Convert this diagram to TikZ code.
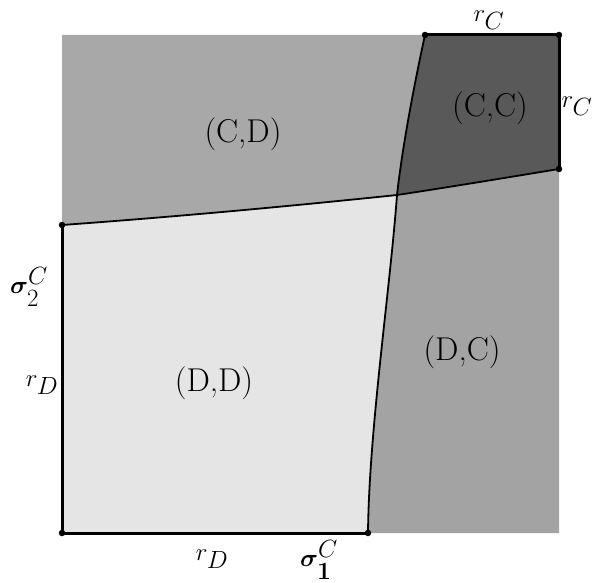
\documentclass[tikz,border=0pt]{standalone}
\usepackage{amssymb}
\usepackage{amsmath}
\usepackage{bm}
\usepackage{tikz}
\usetikzlibrary{calc}

\begin{document}
\begin{tikzpicture}[x=1pt,y=-1pt]
\tikzstyle{dot} = [draw,circle,minimum size=6pt,fill,inner sep=0mm]
\tikzstyle{lbl} = [inner sep=0pt,font=\fontsize{33}{38}\selectfont]
\tikzstyle{edge} = [line width=3pt]
\tikzstyle{split} = [line width=1.8pt]
\definecolor{cdgray}{gray}{0.66}
\definecolor{ccgray}{gray}{0.35}
\definecolor{ddgray}{gray}{0.90}
\definecolor{dcgray}{gray}{0.64}

\useasboundingbox (0,0) rectangle (592,583);

% corners and curve ends
\coordinate (tl) at (62,35);
\coordinate (t)  at (425,35);
\coordinate (tr) at (559,35);
\coordinate (r)  at (559,169);
\coordinate (br) at (559,533);
\coordinate (b)  at (368,533);
\coordinate (bl) at (62,533);
\coordinate (l)  at (62,225);
\coordinate (x)  at (397,195);

% the four regions
\fill[cdgray] (tl) -- (t) .. controls (413,90) and (402,150) .. (x)
   .. controls (320,203) and (200,215) .. (l) -- cycle;
\fill[ccgray] (t) -- (tr) -- (r) .. controls (510,177) and (450,187) .. (x)
   .. controls (402,150) and (413,90) .. (t) -- cycle;
\fill[ddgray] (l) .. controls (200,215) and (320,203) .. (x)
   .. controls (390,290) and (369,430) .. (b) -- (bl) -- cycle;
\fill[dcgray] (x) .. controls (450,187) and (510,177) .. (r) -- (br) -- (b)
   .. controls (369,430) and (390,290) .. (x) -- cycle;

% boundaries
\draw[split] (l) .. controls (200,215) and (320,203) .. (x)
   .. controls (450,187) and (510,177) .. (r);
\draw[split] (t) .. controls (413,90) and (402,150) .. (x)
   .. controls (390,290) and (369,430) .. (b);

\draw[edge] (t) -- (tr) -- (r);
\draw[edge] (l) -- (bl) -- (b);

\node[dot] (dt)  at (t)  {};
\node[dot] (dtr) at (tr) {};
\node[dot] (dr)  at (r)  {};
\node[dot] (dl)  at (l)  {};
\node[dot] (dbl) at (bl) {};
\node[dot] (db)  at (b)  {};

\node[lbl] (lcd) at (243,134) {(C,D)};
\node[lbl] (lcc) at (490,108) {(C,C)};
\node[lbl] (ldd) at (214,383) {(D,D)};
\node[lbl] (ldc) at (462,352) {(D,C)};

\node[lbl] (rct) at (489,20)  {$r_C$};
\node[lbl] (rcr) at (577,106) {$r_C$};
\node[lbl] (s2)  at (29,287)  {$\bm{\sigma}_2^C$};
\node[lbl] (rdl) at (42,385)  {$r_D$};
\node[lbl] (rdb) at (212,559) {$r_D$};
\node[lbl] (s1)  at (319,560) {$\bm{\sigma}_{\mathbf{1}}^C$};
\end{tikzpicture}
\end{document}
